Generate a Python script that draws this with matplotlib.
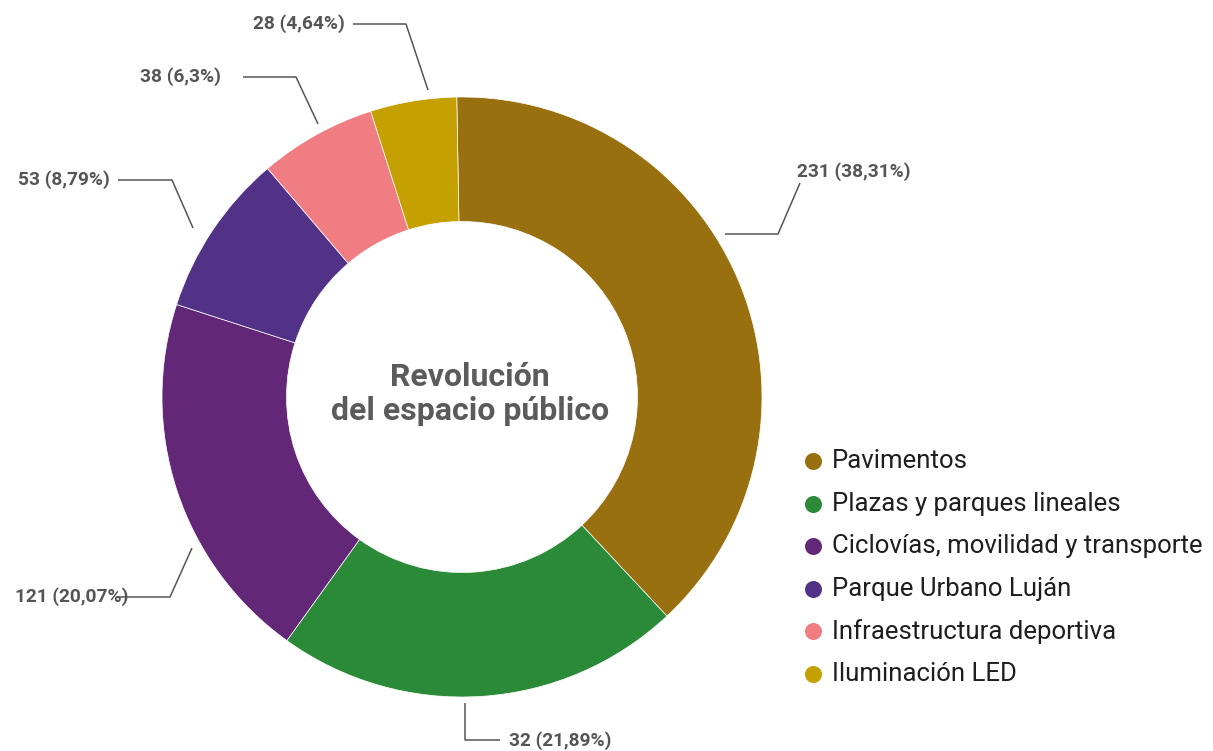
import matplotlib
matplotlib.use("Agg")
import matplotlib.pyplot as plt

categories = ["Pavimentos", "Plazas y parques lineales", "Ciclovías, movilidad y transporte",
              "Parque Urbano Luján", "Infraestructura deportiva", "Iluminación LED"]
values = [231, 132, 121, 53, 38, 28]
value_labels = ["231 (38,31%)", "32 (21,89%)", "121 (20,07%)", "53 (8,79%)", "38 (6,3%)", "28 (4,64%)"]
colors = ["#98700F", "#2A8A37", "#622776", "#513287", "#F07D82", "#C4A100"]
title_lines = "Revolución\ndel espacio público"

W, H = 1213, 751
fig = plt.figure(figsize=(W / 100, H / 100), dpi=100)
ax = fig.add_axes([0, 0, 1, 1])

def Y(y):
    return H - y

cx, cy, R = 462, Y(397), 300
ax.pie(values, colors=colors, startangle=91, counterclock=False, center=(cx, cy), radius=R,
       wedgeprops=dict(width=R * 0.415, edgecolor="white", linewidth=0.5))
ax.set_xlim(0, W)
ax.set_ylim(0, H)
ax.set_aspect("equal")
ax.axis("off")

# center title
ax.text(cx + 8, cy + 3, title_lines, ha="center", va="center", fontsize=23, fontweight="bold",
        color="#5b5b5b", family=["Roboto", "DejaVu Sans"], linespacing=1.15)

# leader lines: (points in px), text anchor, ha
leaders = [
    ([(725, 234), (778, 234), (800, 183)], (797, 172), "left"),
    ([(465, 703), (465, 740), (500, 740)], (509, 741), "left"),
    ([(192, 548), (170, 597), (118, 597)], (128, 597), "right"),
    ([(193, 228), (172, 180), (118, 180)], (110, 180), "right"),
    ([(318, 124), (296, 77), (243, 77)], (221, 77), "right"),
    ([(428, 90), (406, 24), (353, 24)], (345, 24), "right"),
]
for (pts, (tx, ty), ha), lab in zip(leaders, value_labels):
    ax.plot([p[0] for p in pts], [Y(p[1]) for p in pts], color="#555555", lw=1.1,
            solid_capstyle="butt", zorder=3)
    ax.text(tx, Y(ty), lab, ha=ha, va="center", fontsize=13.8, fontweight="bold",
            color="#555555", family=["Roboto", "DejaVu Sans"], zorder=2)

# legend
ly0, dy = 461, 42.6
for i, (cat, col) in enumerate(zip(categories, colors)):
    y = Y(ly0 + i * dy)
    ax.scatter([813], [y], s=150, color=col, zorder=3, linewidths=0)
    ax.text(832, y, cat, ha="left", va="center", fontsize=18.5, color="#1e1e1e",
            family=["Roboto", "DejaVu Sans"])

fig.savefig("out.png", dpi=100, facecolor="white")
